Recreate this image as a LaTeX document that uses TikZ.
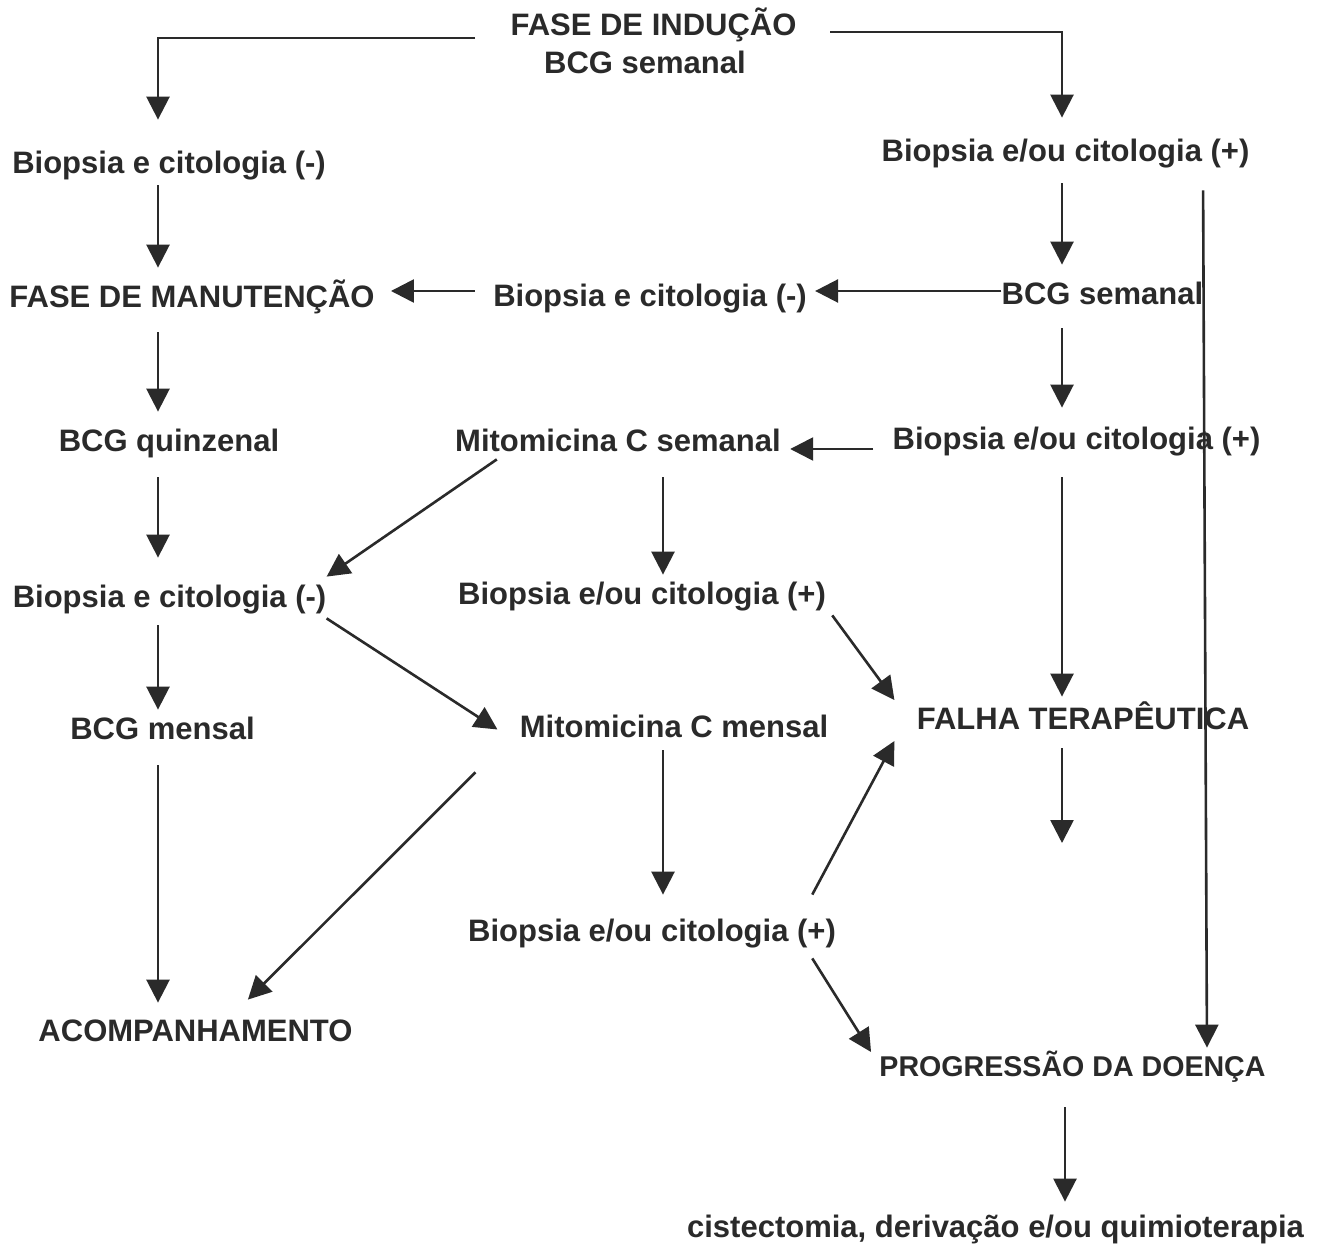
\documentclass[tikz,border=0pt]{standalone}
\usepackage{fontspec}
\setmainfont{Liberation Sans}
\usetikzlibrary{arrows.meta}
\definecolor{ink}{HTML}{2A2A2A}
\begin{document}
\begin{tikzpicture}[x=0.5pt,y=-0.5pt,
  lbl/.style={inner sep=0pt, anchor=base, text height=11pt, text depth=3.5pt, text=ink,
    font=\fontsize{15.5}{18}\selectfont\bfseries},
  lblsm/.style={lbl, font=\fontsize{14.3}{17}\selectfont\bfseries},
  arr/.style={draw=ink, line width=1.3pt, -{Triangle[length=11.5pt,width=11.5pt]}}]
\fill[white] (0,0) rectangle (1322,1245);
\useasboundingbox (0,0) rectangle (1322,1245);
% nodes
\node[lbl] (ind1) at (653.5,36) {FASE DE INDUÇÃO};
\node[lbl] (ind2) at (645,74) {BCG semanal};
\node[lbl] (b1) at (169,174) {Biopsia e citologia (-)};
\node[lbl] (bpTR) at (1065.5,162) {Biopsia e/ou citologia (+)};
\node[lbl] (manut) at (192,308) {FASE DE MANUTENÇÃO};
\node[lbl] (bmid) at (650,307) {Biopsia e citologia (-)};
\node[lbl] (bcgR) at (1102.5,305) {BCG semanal};
\node[lbl] (quinz) at (169,452) {BCG quinzenal};
\node[lbl] (mitS) at (618,452) {Mitomicina C semanal};
\node[lbl] (bpR2) at (1076.5,450) {Biopsia e/ou citologia (+)};
\node[lbl] (bneg2) at (169.5,607) {Biopsia e citologia (-)};
\node[lbl] (bp3) at (642,604) {Biopsia e/ou citologia (+)};
\node[lbl] (mensal) at (162.5,739) {BCG mensal};
\node[lbl] (mitM) at (674,737) {Mitomicina C mensal};
\node[lbl] (falha) at (1083,729) {FALHA TERAPÊUTICA};
\node[lbl] (bp4) at (652,941) {Biopsia e/ou citologia (+)};
\node[lbl] (acomp) at (195.5,1041) {ACOMPANHAMENTO};
\node[lblsm] (prog) at (1072.5,1076) {PROGRESSÃO DA DOENÇA};
\node[lbl] (cist) at (995.5,1237) {cistectomia, derivação e/ou quimioterapia};
% helper coordinates
\coordinate (cL) at (158,0);
\coordinate (cM) at (663,0);
\coordinate (cR) at (1062,0);
\coordinate (cP) at (1065,0);
\coordinate (cRR1) at (1203,0);
\coordinate (cRR2) at (1207,0);
\coordinate (r291) at (0,291);
\coordinate (r449) at (0,449);
\coordinate (indL) at (475,38);
\coordinate (indR) at (830,32);
\coordinate (fend) at (1062,843);
% connectors
\draw[arr, shorten >=16pt] (indL) -| (cL |- b1.north);
\draw[arr, shorten >=11pt] (indR) -| (cR |- bpTR.north);
\draw[arr, shorten <=2pt, shorten >=9pt] (cL |- b1.south) -- (cL |- manut.north);
\draw[arr, shorten <=7pt, shorten >=9pt] (cR |- bpTR.south) -- (cR |- bcgR.north);
\draw[arr, shorten <=10.5pt, shorten >=3pt] (cRR1 |- bpTR.south) -- (cRR2 |- prog.north);
\draw[arr, shorten >=4pt] (bcgR.west |- r291) -- (bmid.east |- r291);
\draw[arr, shorten <=9pt, shorten >=8pt] (bmid.west |- r291) -- (manut.east |- r291);
\draw[arr, shorten <=8.5pt, shorten >=9pt] (cL |- manut.south) -- (cL |- quinz.north);
\draw[arr, shorten <=8pt, shorten >=10pt] (cR |- bcgR.south) -- (cR |- bpR2.north);
\draw[arr, shorten <=9pt, shorten >=13.5pt] (cL |- quinz.south) -- (cL |- bneg2.north);
\draw[arr, shorten <=9.5pt, shorten >=4.5pt] (bpR2.west |- r449) -- (mitS.east |- r449);
\draw[arr] ([xshift=21pt]mitS.south west) -- ([yshift=4pt]bneg2.north east);
\draw[arr, shorten <=9pt, shorten >=3.5pt] (cM |- mitS.south) -- (cM |- bp3.north);
\draw[arr, shorten <=10pt, shorten >=5pt] (cR |- bpR2.south) -- (cR |- falha.north);
\draw[arr, shorten <=5.5pt, shorten >=3.5pt] (cL |- bneg2.south) -- (cL |- mensal.north);
\draw[arr] ([yshift=-2pt]bneg2.south east) -- ([xshift=-11pt]mitM.west);
\draw[arr] ([xshift=3pt,yshift=-2pt]bp3.south east) -- ([xshift=-11pt,yshift=10.75pt]falha.west);
\draw[arr, shorten <=9.5pt, shorten >=8pt] (cL |- mensal.south) -- (cL |- acomp.north);
\draw[arr] ([xshift=-22pt,yshift=-14pt]mitM.south west) -- ([xshift=-52.5pt,yshift=9.5pt]acomp.north east);
\draw[arr, shorten <=3pt, shorten >=12pt] (cM |- mitM.south) -- (cM |- bp4.north);
\draw[arr, shorten <=6pt] (cR |- falha.south) -- (fend);
\draw[arr] ([xshift=-12pt,yshift=12pt]bp4.north east) -- ([xshift=-11pt,yshift=-9.75pt]falha.west);
\draw[arr] ([xshift=-12pt,yshift=-5pt]bp4.south east) -- ([xshift=-4pt,yshift=8.25pt]prog.west);
\draw[arr, shorten <=12pt, shorten >=6.5pt] (cP |- prog.south) -- (cP |- cist.north);
\end{tikzpicture}
\end{document}
